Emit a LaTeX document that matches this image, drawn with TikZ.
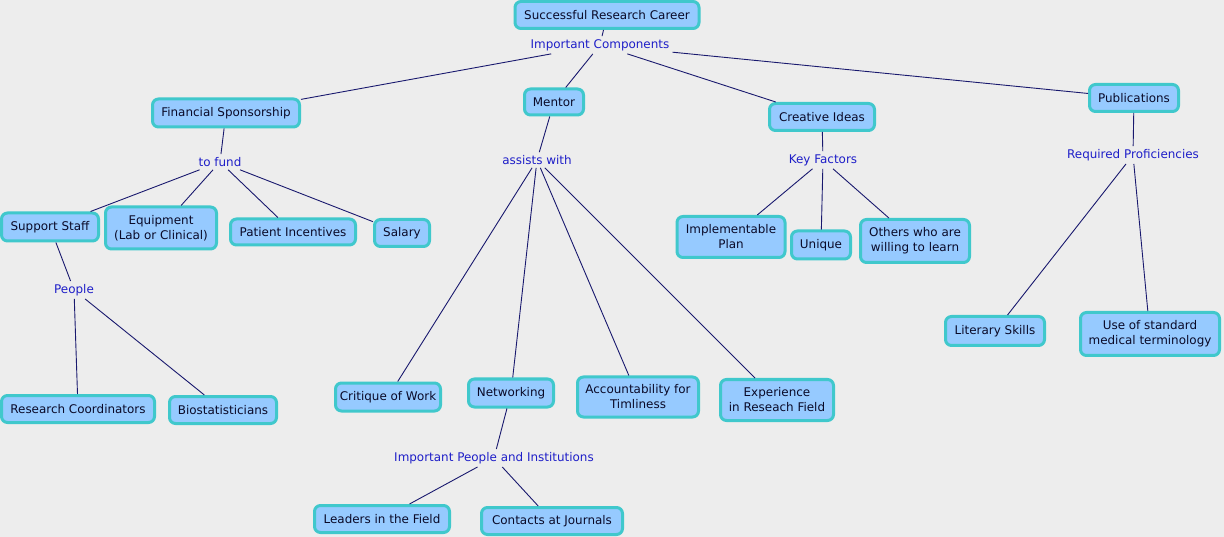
\documentclass[tikz,border=0pt]{standalone}
\usepackage{fontspec}
\setmainfont{DejaVu Sans}
\definecolor{bgc}{RGB}{237,237,237}
\definecolor{fillc}{RGB}{150,202,255}
\definecolor{bordc}{RGB}{64,200,204}
\definecolor{textc}{RGB}{10,10,40}
\definecolor{labc}{RGB}{30,30,200}
\definecolor{linec}{RGB}{25,25,110}
\newcommand{\fnt}{\fontsize{11.95}{15}\selectfont}
\tikzset{
  box/.style={draw=bordc, line width=3pt, fill=fillc, rounded corners=6pt, text=textc, font=\fnt, align=center, inner sep=1pt},
  lab/.style={text=labc, font=\fnt, inner sep=3pt},
  ln/.style={draw=linec, line width=0.9pt}
}
\begin{document}
\begin{tikzpicture}[x=1pt,y=-1pt]
\fill[bgc] (0,0) rectangle (1224,537);
\useasboundingbox (0,0) rectangle (1224,537);
% boxes
\node[box, minimum width=184pt, minimum height=27pt] (src) at (607,15) {Successful Research Career};
\node[box, minimum width=147pt, minimum height=28pt] (fin) at (226,113) {Financial Sponsorship};
\node[box, minimum width=59pt, minimum height=26pt] (men) at (554,102) {Mentor};
\node[box, minimum width=105pt, minimum height=27pt] (cre) at (822,117) {Creative Ideas};
\node[box, minimum width=89pt, minimum height=27pt] (pub) at (1134,98) {Publications};
\node[box, minimum width=97pt, minimum height=28pt] (sup) at (50,227) {Support Staff};
\node[box, minimum width=111pt, minimum height=42pt] (equ) at (161,228) {Equipment\\(Lab or Clinical)};
\node[box, minimum width=125pt, minimum height=26pt] (pat) at (293,232) {Patient Incentives};
\node[box, minimum width=55pt, minimum height=27pt] (sal) at (402,233) {Salary};
\node[box, minimum width=153pt, minimum height=27pt] (rc) at (78,409) {Research Coordinators};
\node[box, minimum width=107pt, minimum height=27pt] (bio) at (223,410) {Biostatisticians};
\node[box, minimum width=105pt, minimum height=28pt] (cri) at (388,397) {Critique of Work};
\node[box, minimum width=85pt, minimum height=28pt] (net) at (511,393) {Networking};
\node[box, minimum width=121pt, minimum height=40pt] (acc) at (638,397) {Accountability for\\Timliness};
\node[box, minimum width=113pt, minimum height=41pt] (exp) at (777,400) {Experience\\in Reseach Field};
\node[box, minimum width=135pt, minimum height=27pt] (lea) at (382,519) {Leaders in the Field};
\node[box, minimum width=141pt, minimum height=27pt] (con) at (552,521) {Contacts at Journals};
\node[box, minimum width=108pt, minimum height=41pt] (imp) at (731,237) {Implementable\\Plan};
\node[box, minimum width=59pt, minimum height=28pt] (uni) at (821,245) {Unique};
\node[box, minimum width=109pt, minimum height=43pt] (oth) at (915,241) {Others who are\\willing to learn};
\node[box, minimum width=99pt, minimum height=29pt] (lit) at (995,331) {Literary Skills};
\node[box, minimum width=139pt, minimum height=43pt] (use) at (1150,334) {Use of standard\\medical terminology};
% labels
\node[lab] (l1) at (600,45) {Important Components};
\node[lab] (l2) at (220,162) {to fund};
\node[lab] (l3) at (537,160) {assists with};
\node[lab] (l4) at (823,160) {Key Factors};
\node[lab] (l5) at (1133,155) {Required Proficiencies};
\node[lab] (l6) at (74,290) {People};
\node[lab] (l7) at (494,458) {Important People and Institutions};
% connectors
\draw[ln] (src) -- (l1);
\draw[ln] (l1) -- (fin);
\draw[ln] (l1) -- (men);
\draw[ln] (l1) -- (cre);
\draw[ln] (l1) -- (pub);
\draw[ln] (fin) -- (l2);
\draw[ln] (l2) -- (sup);
\draw[ln] (l2) -- (equ);
\draw[ln] (l2) -- (pat);
\draw[ln] (l2) -- (sal);
\draw[ln] (sup) -- (l6);
\draw[ln] (l6) -- (rc);
\draw[ln] (l6) -- (bio);
\draw[ln] (men) -- (l3);
\draw[ln] (l3) -- (cri);
\draw[ln] (l3) -- (net);
\draw[ln] (l3) -- (acc);
\draw[ln] (l3) -- (exp);
\draw[ln] (net) -- (l7);
\draw[ln] (l7) -- (lea);
\draw[ln] (l7) -- (con);
\draw[ln] (cre) -- (l4);
\draw[ln] (l4) -- (imp);
\draw[ln] (l4) -- (uni);
\draw[ln] (l4) -- (oth);
\draw[ln] (pub) -- (l5);
\draw[ln] (l5) -- (lit);
\draw[ln] (l5) -- (use);
\end{tikzpicture}
\end{document}
